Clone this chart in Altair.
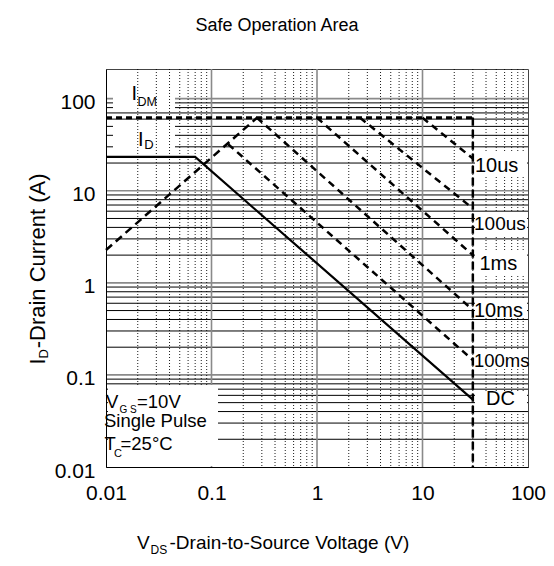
import altair as alt
import pandas as pd

FONT = "Liberation Sans"

# ---------------- data ----------------
pulse_names = ["10us", "100us", "1ms", "10ms", "100ms"]
pulse_v_start = [10.0, 2.56, 1.0, 0.27, 0.144]
pulse_i_start = [62.0, 62.0, 62.0, 62.0, 32.0]
pulse_v_end = [30.0, 30.0, 30.0, 30.0, 30.0]
pulse_i_end = [22.4, 6.43, 2.0, 0.507, 0.145]

dc_v = [0.01, 0.07, 30.0]
dc_i = [23.3, 23.3, 0.054]

rds_v = [0.01, 0.27]
rds_i = [2.27, 62.0]

idm_level = [62.0]
vds_max = [30.0]
v_min = [0.01]
i_min = [0.01]

x_ticks = [0.01, 0.1, 1, 10, 100]
y_ticks = [0.01, 0.1, 1, 10, 100]
minor_mult = [2, 3, 4, 5, 6, 7, 8, 9]
x_decades = [0.01, 0.1, 1, 10]
y_decades = [0.01, 0.1, 1, 10, 100]
x_major = [0.1, 1, 10]
y_major = [0.1, 1, 10, 100]

x_minor = [m * d for d in x_decades for m in minor_mult]
y_minor = [m * d for d in y_decades for m in minor_mult if m * d < 200]

# ---------------- scales / axes ----------------
xs = alt.Scale(type="log", domain=[0.01, 100], nice=False)
ys = alt.Scale(type="log", domain=[0.01, 210], nice=False)

xaxis = alt.Axis(values=x_ticks, format="~g", grid=False, ticks=False,
                 labelFont=FONT, labelFontSize=21, labelColor="black",
                 labelPadding=15, domainColor="black", domainWidth=1,
                 labelFlush=False, labelOverlap=False, title=None, zindex=1)
yaxis = alt.Axis(values=y_ticks, format="~g", grid=False, ticks=False,
                 labelFont=FONT, labelFontSize=21, labelColor="black",
                 labelPadding=11, labelOffset=4, domainColor="black", domainWidth=1,
                 labelFlush=False, labelOverlap=False, title=None, zindex=1)


def X(f):
    return alt.X(f, type="quantitative", scale=xs, axis=xaxis)


def Y(f):
    return alt.Y(f, type="quantitative", scale=ys, axis=yaxis)


dummy = alt.Data(values=[{}])


def box(x1, x2, y1, y2):
    return alt.Chart(dummy).mark_rect(color="white").encode(
        x=alt.value(x1), x2=alt.value(x2), y=alt.value(y1), y2=alt.value(y2))


def txt(s, x, y, size, align="left", angle=0):
    return alt.Chart(dummy).mark_text(
        text=s, font=FONT, fontSize=size, color="black", align=align,
        baseline="alphabetic", angle=angle).encode(x=alt.value(x), y=alt.value(y))


layers = []

# horizontal grid
layers.append(alt.Chart(pd.DataFrame({"i": y_minor})).mark_rule(
    color="black", strokeWidth=1).encode(y=Y("i")))
layers.append(alt.Chart(pd.DataFrame({"i": y_major})).mark_rule(
    color="#8a8a8a", strokeWidth=1.6).encode(y=Y("i")))

# boxes hiding horizontal lines only
layers.append(box(7, 69, 1, 40))
layers.append(box(7, 69, 52, 84))

# vertical grid
layers.append(alt.Chart(pd.DataFrame({"v": x_minor})).mark_rule(
    color="black", strokeWidth=0.9, strokeDash=[1, 2]).encode(x=X("v")))
layers.append(alt.Chart(pd.DataFrame({"v": x_major})).mark_rule(
    color="#8a8a8a", strokeWidth=1.6).encode(x=X("v")))

# boxes hiding all grid
layers.append(box(2, 112, 316, 397))
for (a, b) in [(83, 107), (143, 167), (181, 207), (231, 249), (281, 299), (322, 341)]:
    layers.append(box(369, 421, a, b))

# curves
pulse_df = pd.DataFrame({"name": pulse_names, "v0": pulse_v_start, "i0": pulse_i_start,
                         "v1": pulse_v_end, "i1": pulse_i_end})
layers.append(alt.Chart(pulse_df).mark_rule(color="black", strokeWidth=2.5, strokeDash=[7, 5]).encode(
    x=X("v0"), y=Y("i0"), x2="v1", y2="i1"))

rds_df = pd.DataFrame({"v0": [rds_v[0]], "i0": [rds_i[0]], "v1": [rds_v[1]], "i1": [rds_i[1]]})
layers.append(alt.Chart(rds_df).mark_rule(color="black", strokeWidth=2.5, strokeDash=[8, 5]).encode(
    x=X("v0"), y=Y("i0"), x2="v1", y2="i1"))

idm_df = pd.DataFrame({"v0": v_min, "v1": vds_max, "i": idm_level})
layers.append(alt.Chart(idm_df).mark_rule(color="black", strokeWidth=3, strokeDash=[6, 4]).encode(
    x=X("v0"), x2="v1", y=Y("i")))

vmax_df = pd.DataFrame({"v": vds_max, "i0": idm_level, "i1": i_min})
layers.append(alt.Chart(vmax_df).mark_rule(color="black", strokeWidth=2.5, strokeDash=[8, 4]).encode(
    x=X("v"), y=Y("i0"), y2="i1"))

dc_df = pd.DataFrame({"v": dc_v, "i": dc_i, "o": [0, 1, 2]})
layers.append(alt.Chart(dc_df).mark_line(color="black", strokeWidth=2.2).encode(
    x=X("v"), y=Y("i"), order="o:Q"))

# in-plot labels
layers += [
    txt("I", 25.5, 30.5, 20), txt("DM", 31.5, 37, 12.5),
    txt("I", 32, 77, 20), txt("D", 38.3, 80, 13),
    txt("10us", 369, 102.7, 20), txt("100us", 368, 161, 19),
    txt("1ms", 373.5, 201, 20), txt("10ms", 368, 247.7, 20),
    txt("100ms", 368, 297.7, 18.5), txt("DC", 380, 336, 20),
    txt("V", 0, 339.3, 18.5), txt("G S", 13.5, 344, 10), txt("=10V", 31, 339.3, 18.5),
    txt("Single Pulse", -2, 358.3, 18.5),
    txt("T", -1.5, 381, 18.5), txt("C", 8, 387.7, 11), txt("=25°C", 14.5, 381, 18.5),
]

# titles
layers += [
    txt("Safe Operation Area", 171, -38, 18, align="center"),
    txt("V", 31, 480, 19), txt("DS", 44.5, 485, 12), txt("-Drain-to-Source Voltage (V)", 63.5, 480, 19),
    txt("I", -61, 295.5, 22, angle=270), txt("D", -58, 289.4, 13, angle=270),
    txt("-Drain Current (A)", -61, 279.3, 22, angle=270),
]

chart = alt.layer(*layers).properties(
    width=422, height=398,
    autosize=alt.AutoSizeParams(type="none"),
    padding={"left": 98, "top": 61, "right": 18, "bottom": 91},
).configure_view(stroke="#444", strokeWidth=1)

chart.save("out.html", embed_options={"renderer": "svg", "actions": False})
